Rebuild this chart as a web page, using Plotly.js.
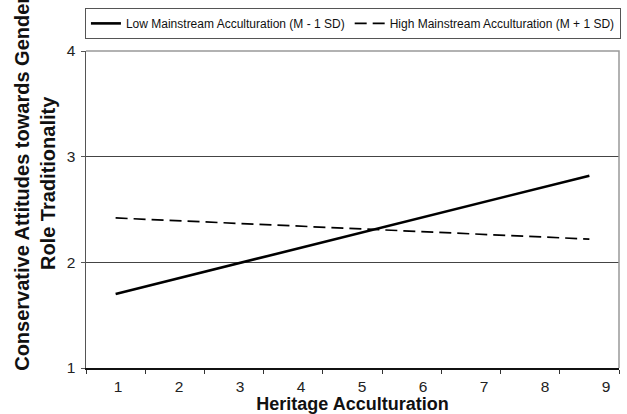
<!DOCTYPE html>
<html>
<head>
<meta charset="utf-8">
<script src="https://cdn.plot.ly/plotly-3.0.1.min.js"></script>
<style>html,body{margin:0;padding:0;background:#fff;}#chart{width:627px;height:414px;}</style>
</head>
<body>
<div id="chart"></div>
<script>
// Data
const categories = [1, 2, 3, 4, 5, 6, 7, 8, 9];
const tickLabels = ['1', '2', '3', '4', '5', '6', '7', '8', '9'];
const lineX = [1, 9];
const lowMainstream = [1.70, 2.82];
const highMainstream = [2.42, 2.22];
const seriesNames = ['Low Mainstream Acculturation (M - 1 SD)', 'High Mainstream Acculturation (M + 1 SD)'];
const yTicks = [1, 2, 3, 4];
const xTitle = 'Heritage Acculturation';
const yTitle = 'Conservative Attitudes towards Gender<br>Role Traditionality';

const FONT = '"Liberation Sans", Arial, Helvetica, sans-serif';

// label placement (styling): labels drift slightly from category centres in the original
const labelPos = categories.map((k, i) => 1.04 + i * 1.03);
const boundaries = [0.5].concat(categories.map(k => k + 0.5));

const traces = [
  {x: lineX, y: lowMainstream, type: 'scatter', mode: 'lines', name: seriesNames[0],
   line: {color: '#000', width: 2.6}},
  {x: lineX, y: highMainstream, type: 'scatter', mode: 'lines', name: seriesNames[1],
   line: {color: '#000', width: 1.7, dash: '12px,6px'}}
];

const layout = {
  width: 627, height: 414,
  margin: {l: 86, r: 8, t: 51, b: 46},
  paper_bgcolor: '#fff', plot_bgcolor: '#fff',
  font: {family: FONT, color: '#222'},
  showlegend: true,
  legend: {
    orientation: 'h', x: -0.002, xanchor: 'left', y: 1.136, yanchor: 'top',
    bordercolor: '#555', borderwidth: 1, bgcolor: '#fff',
    font: {family: FONT, size: 12, color: '#111'},
    itemgap: 4, itemwidth: 30
  },
  xaxis: {
    range: [0.5, 9.5], showgrid: false, zeroline: false,
    showline: true, linecolor: '#111', linewidth: 1.5,
    tickmode: 'array', tickvals: labelPos, ticktext: tickLabels,
    ticks: '', tickfont: {family: FONT, size: 15.5, color: '#222'},
    ticklabelstandoff: 4,
    minor: {tickmode: 'array', tickvals: boundaries, ticks: 'outside', ticklen: 4, tickcolor: '#333', tickwidth: 1, showgrid: false},
    title: {text: '<b>' + xTitle + '</b>', font: {family: FONT, size: 18, color: '#111'}, standoff: 2},
    fixedrange: true
  },
  yaxis: {
    range: [1, 4], tickmode: 'array', tickvals: yTicks, ticktext: yTicks.map(String),
    showgrid: true, gridcolor: '#444', gridwidth: 1.4, zeroline: false,
    showline: true, linecolor: '#555', linewidth: 1.5,
    ticks: 'outside', ticklen: 4, tickcolor: '#555',
    tickfont: {family: FONT, size: 15.5, color: '#222'},
    ticklabelstandoff: 2,
    fixedrange: true
  },
  shapes: [
    {type: 'path', xref: 'paper', yref: 'paper', path: 'M 0 1 L 1 1 L 1 0', layer: 'above',
     line: {color: '#999', width: 1.5}}
  ],
  annotations: [
    {text: '<b>' + yTitle + '</b>', xref: 'paper', yref: 'paper', x: -0.097, y: 0.582,
     xanchor: 'center', yanchor: 'middle', textangle: -90, showarrow: false,
     font: {family: FONT, size: 20, color: '#111'}}
  ]
};

Plotly.newPlot('chart', traces, layout, {displayModeBar: false, staticPlot: true});
</script>
</body>
</html>
